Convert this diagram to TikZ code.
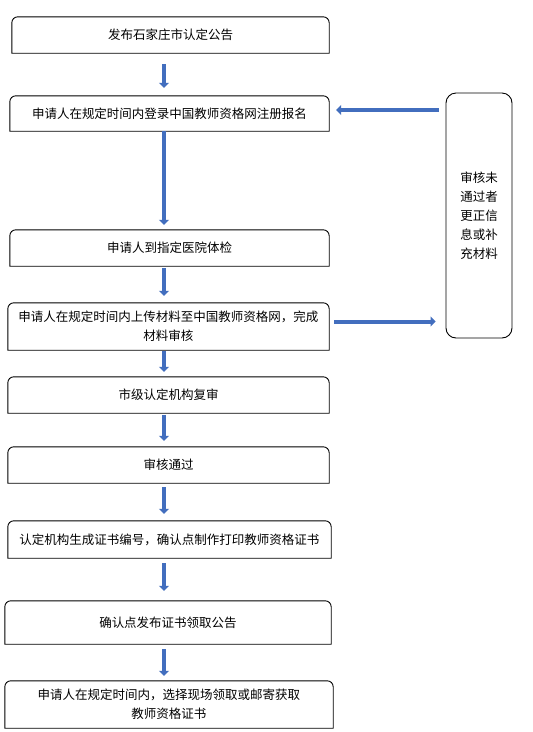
\documentclass[tikz,border=0pt]{standalone}
\usepackage{fontspec}
\newfontfamily\cjk{Noto Sans CJK SC}
\usetikzlibrary{arrows.meta}
\definecolor{arrowblue}{RGB}{66,110,190}
\tikzset{
  flowbox/.style={inner sep=0pt, font=\cjk\fontsize{12.5}{19}\selectfont, align=center},
  bluearrow/.style={draw=arrowblue, line width=4pt, -{Triangle[width=10pt,length=5pt]}},
  boxline/.style={draw=black, line width=0.9pt},
}
\newcommand\topround[1]{\draw[boxline] (#1.south west) -- ([yshift=-6pt]#1.north west) arc[start angle=180,end angle=90,radius=6pt] -- ([xshift=-6pt]#1.north east) arc[start angle=90,end angle=0,radius=6pt] -- (#1.south east) -- cycle;}
\begin{document}
\begin{tikzpicture}[x=1pt,y=-1pt]
\useasboundingbox[fill=white] (0,0) rectangle (533,732);
\node[flowbox, minimum width=317pt, minimum height=36pt] (b1) at (170.5,35) {发布石家庄市认定公告};
\node[flowbox, minimum width=319pt, minimum height=35pt] (b2) at (169.5,113.5) {申请人在规定时间内登录中国教师资格网注册报名};
\node[flowbox, minimum width=319pt, minimum height=36pt] (b3) at (169.5,248) {申请人到指定医院体检};
\node[flowbox, minimum width=321pt, minimum height=47pt] (b4) at (168.5,326.5) {申请人在规定时间内上传材料至中国教师资格网，完成\\材料审核};
\node[flowbox, minimum width=321pt, minimum height=36pt] (b5) at (168.5,395) {市级认定机构复审};
\node[flowbox, minimum width=321pt, minimum height=36pt] (b6) at (168.5,465) {审核通过};
\node[flowbox, minimum width=323pt, minimum height=37pt] (b7) at (169.5,539.5) {认定机构生成证书编号，确认点制作打印教师资格证书};
\node[flowbox, minimum width=326pt, minimum height=43pt] (b8) at (168,622.5) {确认点发布证书领取公告};
\node[flowbox, minimum width=328pt, minimum height=47pt] (b9) at (169,704.5) {申请人在规定时间内，选择现场领取或邮寄获取\\教师资格证书};
\node[flowbox, draw, line width=0.9pt, rounded corners=10pt, minimum width=66pt, minimum height=245pt] (side) at (479,215.5) {审核未\\通过者\\更正信\\息或补\\充材料};
\topround{b1}\topround{b2}\topround{b3}\topround{b4}\topround{b5}
\topround{b6}\topround{b7}\topround{b8}\topround{b9}
\coordinate (ax) at (164,0);
\coordinate (yA) at (0,110);
\coordinate (yB) at (0,321.5);
\draw[bluearrow, shorten <=11pt, shorten >=8pt] (b1.south -| ax) -- (b2.north -| ax);
\draw[bluearrow, shorten <=0pt, shorten >=5pt] (b2.south -| ax) -- (b3.north -| ax);
\draw[bluearrow, shorten <=2pt, shorten >=7pt] (b3.south -| ax) -- (b4.north -| ax);
\draw[bluearrow, shorten <=1pt, shorten >=5pt] (b4.south -| ax) -- (b5.north -| ax);
\draw[bluearrow, shorten <=2pt, shorten >=6pt] (b5.south -| ax) -- (b6.north -| ax);
\draw[bluearrow, shorten <=4pt, shorten >=7pt] (b6.south -| ax) -- (b7.north -| ax);
\draw[bluearrow, shorten <=5pt, shorten >=10pt] (b7.south -| ax) -- (b8.north -| ax);
\draw[bluearrow, shorten <=5pt, shorten >=5pt] (b8.south -| ax) -- (b9.north -| ax);
\draw[bluearrow, shorten <=7pt, shorten >=7pt] (side.west |- yA) -- (b2.east |- yA);
\draw[bluearrow, shorten <=5pt, shorten >=10pt] (b4.east |- yB) -- (side.west |- yB);
\end{tikzpicture}
\end{document}
